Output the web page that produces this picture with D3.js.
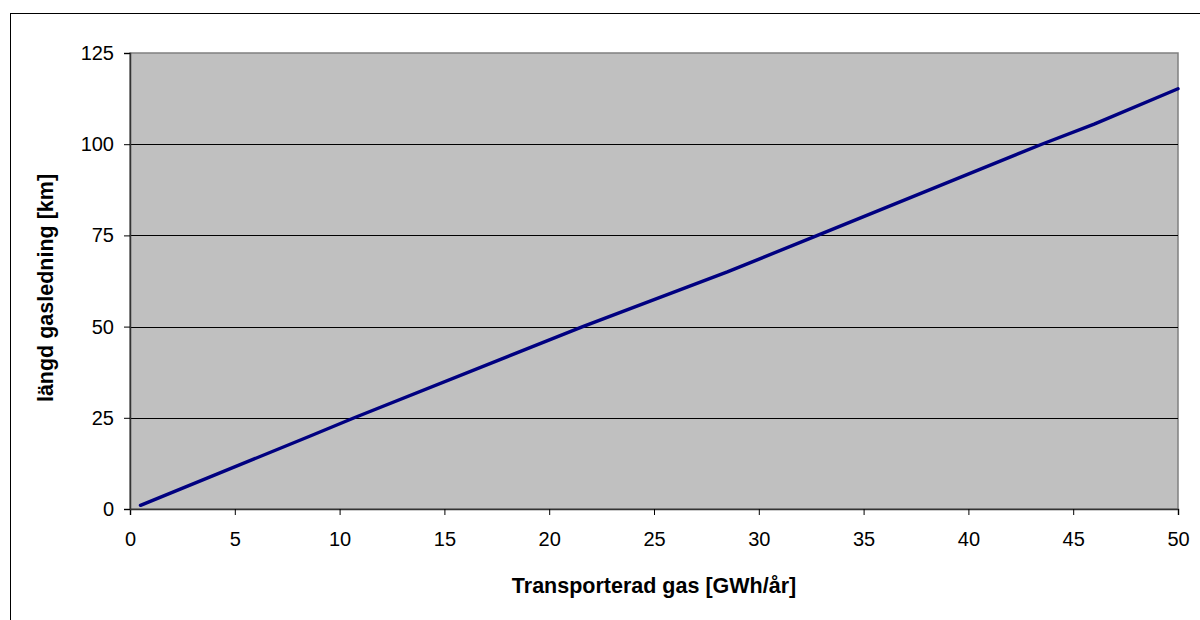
<!DOCTYPE html>
<html><head><meta charset="utf-8">
<script src="https://cdn.jsdelivr.net/npm/d3@7"></script>
<style>body{margin:0;background:#fff}svg{display:block;font-family:"Liberation Sans",Arial,sans-serif}</style>
</head><body>
<svg id="c" width="1200" height="620"></svg>
<script>
const gasX = [0.5, 8.6, 10.7, 21.6, 26.2, 28.5, 32.8, 43.5, 46.0, 50.0];
const lengthY = [1, 20, 25, 50, 60, 65, 75, 100, 105.5, 115.2];
const xTicks = [0,5,10,15,20,25,30,35,40,45,50];
const yTicks = [0,25,50,75,100,125];
const xTitle = "Transporterad gas [GWh/år]";
const yTitle = "längd gasledning [km]";

const svg = d3.select("#c");
const L=130,R=1178,T=53,B=509;
const x = d3.scaleLinear().domain([0,50]).range([L,R]);
const y = d3.scaleLinear().domain([0,125]).range([B,T]);

svg.append("rect").attr("x",10.5).attr("y",13.5).attr("width",1200).attr("height",620).attr("fill","none").attr("stroke","#000").attr("stroke-width",1);
svg.append("rect").attr("x",L).attr("y",T).attr("width",R-L).attr("height",B-T).attr("fill","#c0c0c0").attr("stroke","#808080").attr("stroke-width",1.5);

svg.append("g").selectAll("line").data(yTicks.filter(d=>d>0&&d<125)).join("line")
  .attr("x1",L).attr("x2",R).attr("y1",d=>Math.round(y(d))+0.5).attr("y2",d=>Math.round(y(d))+0.5)
  .attr("stroke","#000").attr("stroke-width",1);

const xa = svg.append("g").attr("transform",`translate(0,${B})`)
  .call(d3.axisBottom(x).tickValues(xTicks).tickSize(6).tickPadding(17).tickFormat(d3.format("d")));
const ya = svg.append("g").attr("transform",`translate(${L},0)`)
  .call(d3.axisLeft(y).tickValues(yTicks).tickSize(6).tickPadding(10).tickFormat(d3.format("d")));
[xa,ya].forEach(a=>{
  a.attr("font-size",20).attr("font-family","'Liberation Sans',Arial,sans-serif");
  a.selectAll("text").attr("fill","#000");
  a.selectAll("line").attr("stroke","#000");
  a.select(".domain").attr("stroke","#333").attr("stroke-width",1.5);
});

const pts = gasX.map((g,i)=>[g,lengthY[i]]);
svg.append("path").datum(pts).attr("fill","none").attr("stroke","#000080").attr("stroke-width",3.4)
  .attr("stroke-linecap","round").attr("stroke-linejoin","round")
  .attr("d",d3.line().x(d=>x(d[0])).y(d=>y(d[1])));

svg.append("text").attr("x",(L+R)/2).attr("y",593).attr("text-anchor","middle")
  .attr("font-size",21.5).attr("font-weight","bold").text(xTitle);
svg.append("text").attr("transform","translate(53,288) rotate(-90)").attr("text-anchor","middle")
  .attr("font-size",21.5).attr("font-weight","bold").text(yTitle);
</script>
</body></html>
